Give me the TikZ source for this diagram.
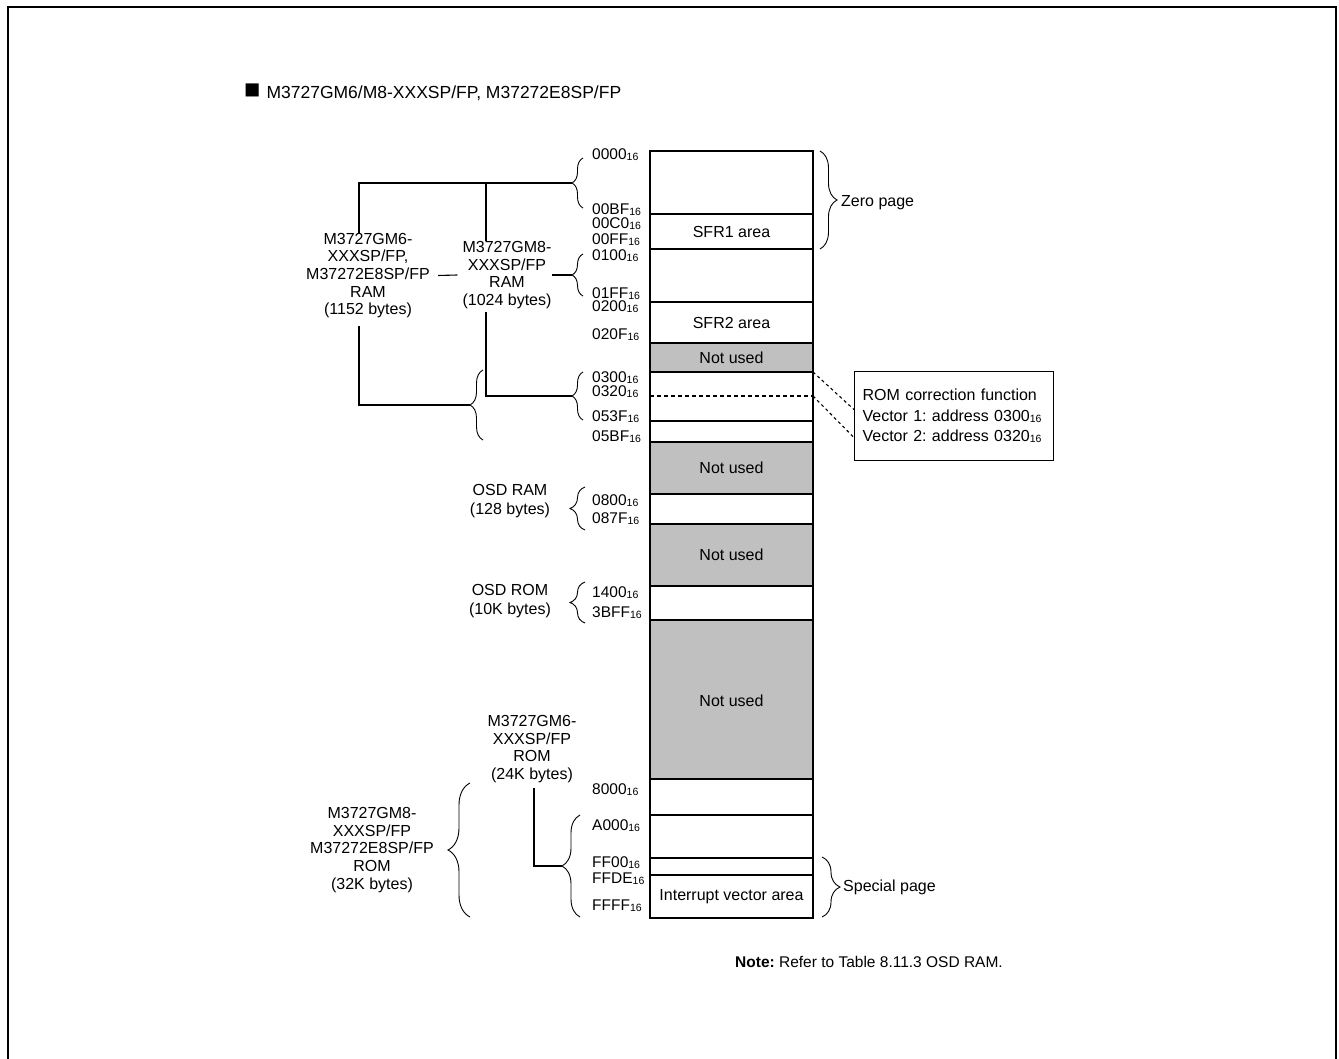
\documentclass[tikz,border=0pt]{standalone}
\usepackage{fontspec}
\setmainfont{Liberation Sans}
\usepackage{xcolor}
\usepackage{tikz}
\usetikzlibrary{decorations.pathreplacing}

\definecolor{unused}{RGB}{192,192,192}
\newcommand{\hx}[1]{#1\raisebox{-1pt}{\fontsize{10.5}{10.5}\selectfont 16}}
\frenchspacing

\begin{document}
\begin{tikzpicture}[x=1pt, y=-1pt, every node/.style={font=\fontsize{16}{17.7}\selectfont, inner sep=0pt},
		cell/.style={line width=1.6pt},
		curly/.style={decorate, decoration={brace, amplitude=#1}, line width=0.9pt},
		link/.style={line width=1.1pt}]
			\useasboundingbox (0,0) rectangle (1339,1059);
			\draw[line width=2.4pt] (8,1059) -- (8,7) -- (1336,7) -- (1336,1059);
			
			\node[anchor=west, font=\fontsize{17.5}{20}\selectfont] (title) at (244,92) {{\fontsize{27}{20}\selectfont ■}\hspace{6pt}M3727GM6/M8-XXXSP/FP, M37272E8SP/FP};
			
			\draw[cell] (650,151) rectangle (813,214);
			\draw[cell] (650,214) rectangle (813,249);
			\draw[cell] (650,249) rectangle (813,302);
			\draw[cell] (650,302) rectangle (813,343);
			\draw[cell, fill=unused] (650,343) rectangle (813,372);
			\draw[cell] (650,372) rectangle (813,421);
			\draw[cell] (650,421) rectangle (813,442);
			\draw[cell, fill=unused] (650,442) rectangle (813,494);
			\draw[cell] (650,494) rectangle (813,524);
			\draw[cell, fill=unused] (650,524) rectangle (813,586);
			\draw[cell] (650,586) rectangle (813,620);
			\draw[cell, fill=unused] (650,620) rectangle (813,779);
			\draw[cell] (650,779) rectangle (813,815);
			\draw[cell] (650,815) rectangle (813,858);
			\draw[cell] (650,858) rectangle (813,875);
			\draw[cell] (650,875) rectangle (813,918);
			\draw[line width=1.2pt, dash pattern=on 4pt off 3pt] (650,396) -- (813,396);
			
			\node (sfr1) at (731.5,231.5) {SFR1 area};
			\node (sfr2) at (731.5,322.5) {SFR2 area};
			\node (nu1) at (731.5,357.5) {Not used};
			\node (nu2) at (731.5,468) {Not used};
			\node (nu3) at (731.5,555) {Not used};
			\node (nu4) at (731.5,701) {Not used};
			\node (ivec) at (731.5,896.5) {Interrupt vector area};
			
			\begin{scope}[addr/.style={anchor=base west, font=\fontsize{15.5}{17}\selectfont}]
				\node[addr] (a0000) at (592,159.5) {\hx{0000}};
				\node[addr] (a00BF) at (592,215) {\hx{00BF}};
				\node[addr] (a00C0) at (592,229) {\hx{00C0}};
				\node[addr] (a00FF) at (592,244.5) {\hx{00FF}};
				\node[addr] (a0100) at (592,260.5) {\hx{0100}};
				\node[addr] (a01FF) at (592,299) {\hx{01FF}};
				\node[addr] (a0200) at (592,312) {\hx{0200}};
				\node[addr] (a020F) at (592,340) {\hx{020F}};
				\node[addr] (a0300) at (592,382.5) {\hx{0300}};
				\node[addr] (a0320) at (592,396.5) {\hx{0320}};
				\node[addr] (a053F) at (592,421.5) {\hx{053F}};
				\node[addr] (a05BF) at (592,441.5) {\hx{05BF}};
				\node[addr] (a0800) at (592,505.5) {\hx{0800}};
				\node[addr] (a087F) at (592,523.5) {\hx{087F}};
				\node[addr] (a1400) at (592,597.5) {\hx{1400}};
				\node[addr] (a3BFF) at (592,617.5) {\hx{3BFF}};
				\node[addr] (a8000) at (592,794.5) {\hx{8000}};
				\node[addr] (aA000) at (592,830.5) {\hx{A000}};
				\node[addr] (aFF00) at (592,867) {\hx{FF00}};
				\node[addr] (aFFDE) at (592,883) {\hx{FFDE}};
				\node[addr] (aFFFF) at (592,910.5) {\hx{FFFF}};
			\end{scope}
			
			\begin{scope}[align=center]
				\node (ram1) at (368,275.5) {M3727GM6-\\XXXSP/FP,\\M37272E8SP/FP\\RAM\\(1152 bytes)};
				\node (ram2) at (507,275) {M3727GM8-\\XXXSP/FP\\RAM\\(1024 bytes)};
				\node[font=\fontsize{16}{19}\selectfont] (osdram) at (510,501) {OSD RAM\\(128 bytes)};
				\node[font=\fontsize{16}{19}\selectfont] (osdrom) at (510,601.5) {OSD ROM\\(10K bytes)};
				\node (rom24) at (532,749) {M3727GM6-\\XXXSP/FP\\ROM\\(24K bytes)};
				\node (rom32) at (372,850) {M3727GM8-\\XXXSP/FP\\M37272E8SP/FP\\ROM\\(32K bytes)};
			\end{scope}
			
			\draw[curly=11] (583,208) -- (583,158);
			\draw[curly=11] (583,296) -- (583,254);
			\draw[curly=11] (583,420) -- (583,372);
			\draw[curly=13] (483,440) -- (483,370);
			\draw[curly=15] (585,530) -- (585,487);
			\draw[curly=15] (585,623) -- (585,582);
			\draw[curly=18] (580,917) -- (580,815);
			\draw[curly=22] (470,917) -- (470,783);
			\draw[curly=17] (820,151) -- (820,249);
			\draw[curly=18] (822,857) -- (822,917);
			
			\coordinate (b1) at (572,183);
			\coordinate (b2) at (572,275);
			\coordinate (b3) at (572,396);
			\coordinate (b8) at (470,405);
			\coordinate (b6) at (562,866);
			
			\node[anchor=west] (zero) at (841,203) {Zero page};
			\node[anchor=west] (special) at (843,887) {Special page};
			
			\draw[link] (b1) -| ([xshift=-9pt]ram1.north);
			\draw[link] ([xshift=-21pt]ram2.north) |- (b1);
			\draw[link] ([xshift=8pt]ram1.east) -- ([xshift=-5pt]ram2.west);
			\draw[link] (ram2.east) -- (b2);
			\draw[link] ([xshift=-9pt, yshift=-8pt]ram1.south) |- (b8);
			\draw[link] ([xshift=-21pt, yshift=-3pt]ram2.south) |- (b3);
			\draw[link] ([xshift=2pt, yshift=-5pt]rom24.south) |- (b6);
			
			\node[draw, line width=1.2pt, anchor=north west, minimum width=199pt, minimum height=89pt, text width=183pt, inner xsep=8pt, align=left, font=\fontsize{16}{20.5}\selectfont] (romfix) at (854,371) {ROM correction function\\Vector 1: address \hx{0300}\\Vector 2: address \hx{0320}};
			
			\coordinate (v1) at (813,372);
			\coordinate (v2) at (813,396);
			\draw[link, dash pattern=on 3pt off 3pt] (v1) -- ([yshift=6.5pt]romfix.west);
			\draw[link, dash pattern=on 3pt off 3pt] (v2) -- ([yshift=-21.5pt]romfix.west);
			
			\node[anchor=west, font=\fontsize{15.5}{18}\selectfont] (note) at (735,962) {\textbf{Note:} Refer to Table 8.11.3 OSD RAM.};
		\end{tikzpicture}
\end{document}
